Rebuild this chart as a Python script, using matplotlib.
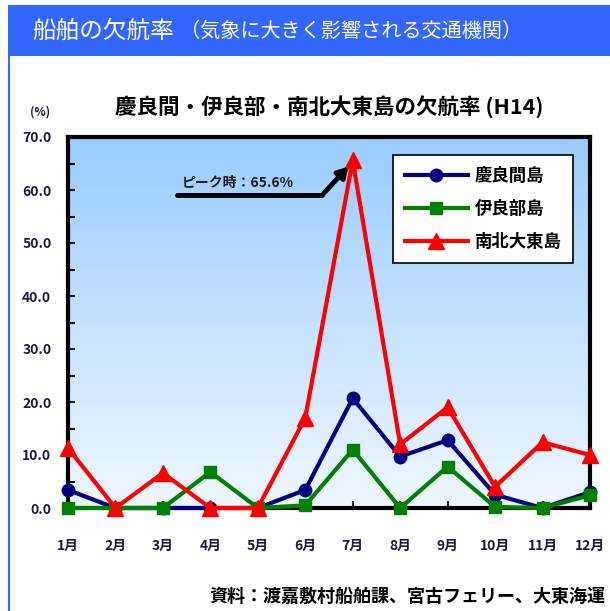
import numpy as np
import matplotlib
matplotlib.use('Agg')
import matplotlib.pyplot as plt
from matplotlib.patches import Rectangle
from matplotlib.lines import Line2D

plt.rcParams['font.family'] = ['Noto Sans CJK JP', 'DejaVu Sans']

months = ['1月', '2月', '3月', '4月', '5月', '6月',
          '7月', '8月', '9月', '10月', '11月', '12月']
kerama = [3.4, 0.0, 0.0, 0.0, 0.0, 3.4, 20.7, 9.7, 12.8, 2.5, 0.0, 3.0]
irabu = [0.0, 0.0, 0.0, 6.8, 0.0, 0.5, 11.0, 0.0, 7.8, 0.2, 0.0, 2.4]
daito = [11.3, 0.0, 6.6, 0.0, 0.0, 17.0, 65.6, 12.0, 19.0, 4.0, 12.4, 10.0]
peak = max(daito)

x = np.arange(1, len(months) + 1)

fig = plt.figure(figsize=(6.1, 6.11), dpi=100)
fig.patch.set_facecolor('white')

# header banner and left rule
blue = '#3366ff'
fig.patches.append(Rectangle((8 / 610, 1 - 56 / 611), 602 / 610, 51 / 611,
                             transform=fig.transFigure, facecolor=blue,
                             edgecolor='none', zorder=0))
fig.lines.append(Line2D([9 / 610, 9 / 610], [0, 1 - 56 / 611],
                        transform=fig.transFigure, color=blue, lw=1.5))
fig.text(32 / 610, 1 - 31 / 611, '船舶の欠航率', color='white', fontsize=17,
         va='center', ha='left')
fig.text(180 / 610, 1 - 31 / 611, '（気象に大きく影響される交通機関）', color='white',
         fontsize=14.5, va='center', ha='left')

ax = fig.add_axes([68 / 610, 1 - 508 / 611, 522 / 610, 371 / 611])

# vertical gradient background
grad = np.linspace(0, 1, 256).reshape(-1, 1)
top = np.array([0.60, 0.80, 1.00])
bot = np.array([0.94, 0.97, 1.00])
img = top + (bot - top) * grad[..., None]
ax.imshow(img, extent=[0, 1, 0, 1], transform=ax.transAxes, aspect='auto',
          zorder=0)

ax.plot(x, kerama, color='#000080', lw=3, marker='o', ms=9,
        label='慶良間島', clip_on=False, zorder=3)
ax.plot(x, irabu, color='#008000', lw=3, marker='s', ms=9,
        label='伊良部島', clip_on=False, zorder=3)
ax.plot(x, daito, color='#ff0000', lw=3, marker='^', ms=11,
        label='南北大東島', clip_on=False, zorder=4)

ax.set_xlim(1, 12)
ax.set_ylim(0, 70)
ax.set_xticks(x)
ax.set_xticklabels(months)
ax.set_yticks(np.arange(0, 71, 10))
ax.set_yticklabels([f'{v:.1f}' for v in np.arange(0, 71, 10)])
ax.set_yticks(np.arange(5, 70, 10), minor=True)
ax.tick_params(axis='both', direction='in', length=5, width=1.5,
               labelsize=10, colors='#1a1a3a')
ax.tick_params(axis='y', which='minor', direction='in', length=5, width=1.5)
ax.tick_params(axis='x', pad=22)
ax.tick_params(axis='y', pad=12)
for lab in ax.get_xticklabels() + ax.get_yticklabels():
    lab.set_fontweight('bold')
for s in ax.spines.values():
    s.set_linewidth(3)
    s.set_color('black')

# peak annotation
ax.plot([3.3, 6.35], [59.0, 59.0], color='black', lw=3.5,
        solid_capstyle='round', zorder=5)
ax.annotate('', xy=(6.95, peak - 0.8), xytext=(6.35, 59.0),
            arrowprops=dict(arrowstyle='-|>,head_width=0.35,head_length=0.6',
                            color='black', lw=3.5), zorder=5)
ax.text(3.4, 60.0, f'ピーク時：{peak}%', fontsize=10, fontweight='bold',
        ha='left', va='bottom', color='#1a1a1a', zorder=5)

leg = ax.legend(loc='upper right', bbox_to_anchor=(0.985, 0.975),
                fontsize=12.5, handlelength=3.6, frameon=True, fancybox=False,
                edgecolor='black', framealpha=1, borderpad=0.7,
                labelspacing=0.85, handletextpad=0.4)
leg.get_frame().set_linewidth(1.2)
for t in leg.get_texts():
    t.set_fontweight('bold')

ax.set_title('慶良間・伊良部・南北大東島の欠航率 (H14)', fontsize=15.5,
             fontweight='bold', pad=17)
fig.text(40 / 610, 1 - 112 / 611, '(%)', fontsize=8.5, fontweight='bold',
         ha='center', va='center', color='#1a1a3a')
fig.text(605 / 610, 1 - 596 / 611, '資料：渡嘉敷村船舶課、宮古フェリー、大東海運',
         fontsize=13, fontweight='bold', ha='right', va='center')

fig.savefig('out.png', dpi=100)
